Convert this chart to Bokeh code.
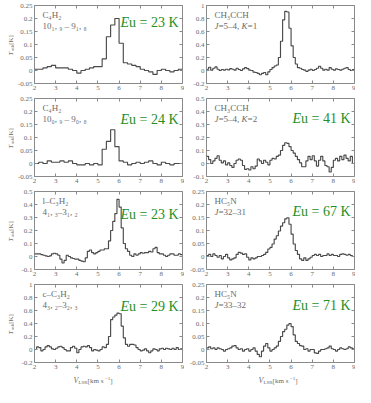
import math
from bokeh.plotting import figure
from bokeh.models import Label, LinearAxis, FixedTicker, Range1d
from bokeh.layouts import row, column
from bokeh.embed import file_html
from bokeh.resources import INLINE

# ---------------- data ----------------
v_start = 2.0
coarse_chan = 0.2
fine_chan = 0.1

x_ticks = [2, 3, 4, 5, 6, 7, 8, 9]
x_tick_labels = ["2", "3", "4", "5", "6", "7", "8", "9"]

# C4H2 10(1,9)-9(1,8)   (0.2 km/s channels)
c4h2_a = [0.005, 0.005, 0.010, 0.015, 0.020, 0.010, 0.010, 0.010, 0.005, 0.000,
          -0.010, 0.000, 0.005, 0.010, 0.015, 0.015, 0.045, 0.130, 0.175, 0.200,
          0.105, 0.030, 0.025, 0.020, 0.015, 0.005, 0.000, -0.005, -0.015, 0.000,
          0.005, 0.000, -0.005, 0.000, 0.005]
# C4H2 10(0,9)-9(0,8)
c4h2_b = [0.000, 0.005, 0.000, 0.010, 0.005, 0.005, 0.010, 0.005, 0.010, 0.000,
          -0.005, -0.005, 0.000, -0.005, 0.000, -0.005, 0.055, 0.085, 0.130, 0.065,
          0.010, 0.005, -0.005, 0.000, 0.005, 0.000, 0.005, 0.010, 0.000, -0.005,
          0.005, 0.000, -0.005, 0.000, 0.000]
# l-C3H2 (0.1 km/s channels)
l_c3h2 = [0.02, 0.02, 0.02, 0.015, 0.01, 0.005, 0.0, 0.005, 0.02, 0.025,
          0.02, 0.01, -0.02, -0.05, -0.03, 0.01, 0.0, -0.01, -0.015, -0.02,
          -0.02, -0.03, -0.035, -0.04, -0.01, 0.04, 0.05, 0.03, 0.02, 0.03,
          0.04, 0.05, 0.05, 0.06, 0.06, 0.12, 0.2, 0.27, 0.33, 0.44,
          0.38, 0.22, 0.1, 0.06, 0.04, 0.01, 0.0, 0.02, 0.01, 0.02,
          0.03, 0.025, 0.03, 0.03, 0.04, 0.035, 0.06, 0.07, 0.03, 0.02,
          0.02, 0.01, 0.0, 0.01, 0.02, 0.02, 0.01, 0.01, 0.02, 0.015]
# c-C3H2
c_c3h2 = [0.0, 0.04, 0.03, -0.02, 0.0, 0.04, 0.06, 0.04, 0.01, 0.0,
          0.02, 0.04, 0.05, 0.03, 0.0, -0.02, -0.02, 0.03, 0.05, 0.02,
          -0.05, 0.0, 0.04, 0.05, 0.04, 0.06, 0.03, -0.02, 0.0, -0.01,
          -0.02, 0.0, 0.04, 0.03, 0.08, 0.2, 0.46, 0.5, 0.53, 0.56,
          0.55, 0.36, 0.18, 0.08, 0.05, 0.08, 0.08, 0.07, 0.03, 0.0,
          -0.02, -0.01, 0.01, -0.02, -0.05, -0.02, 0.01, 0.0, -0.02, 0.01,
          0.02, 0.0, 0.02, 0.01, 0.0, 0.02, 0.0, 0.03, 0.0, 0.01]
# CH3CCH J=5-4 K=1
ch3cch_k1 = [0.02, 0.05, 0.005, 0.035, 0.055, 0.02, 0.0, 0.015, 0.005, 0.02,
             0.01, 0.03, 0.02, 0.005, 0.035, 0.015, 0.0, 0.025, 0.045, 0.03,
             0.005, 0.0, -0.025, -0.03, -0.045, -0.065, -0.045, -0.03, -0.065, -0.02,
             0.015, 0.045, 0.07, 0.085, 0.2, 0.45, 0.78, 0.91, 0.9, 0.65,
             0.38, 0.2, 0.1, 0.045, 0.035, 0.015, 0.005, -0.015, 0.005, 0.02,
             0.0, 0.015, 0.035, 0.065, 0.035, 0.005, 0.02, 0.005, 0.045, 0.02,
             0.005, 0.025, 0.015, 0.005, 0.02, 0.035, 0.045, 0.015, 0.0, 0.015]
# CH3CCH J=5-4 K=2
ch3cch_k2 = [0.055, 0.03, 0.0, 0.02, 0.04, 0.06, 0.025, 0.005, 0.02, -0.01,
             0.005, -0.015, -0.03, 0.0, 0.025, 0.035, 0.025, -0.015, -0.045, -0.04,
             -0.05, -0.025, -0.04, -0.02, 0.035, 0.02, 0.0, 0.025, 0.01, -0.01,
             0.025, 0.04, 0.035, 0.055, 0.065, 0.1, 0.14, 0.16, 0.155, 0.13,
             0.1, 0.08, 0.055, 0.03, 0.005, -0.025, -0.025, 0.02, 0.055, 0.03,
             0.06, 0.02, -0.02, 0.025, 0.055, 0.02, -0.015, -0.025, -0.065, -0.03,
             0.025, 0.04, 0.02, 0.055, 0.03, 0.065, 0.04, 0.02, 0.055, 0.0]
# HC5N J=32-31
hc5n_32 = [0.004, 0.008, 0.0, 0.01, 0.004, -0.003, 0.004, -0.009, 0.0, 0.008,
           -0.005, -0.013, -0.009, -0.005, 0.008, 0.016, 0.013, 0.008, 0.01, -0.003,
           -0.013, -0.005, -0.009, -0.005, 0.0, 0.0, 0.004, 0.008, 0.016, 0.029,
           0.035, 0.048, 0.067, 0.08, 0.098, 0.117, 0.13, 0.145, 0.149, 0.124,
           0.086, 0.048, 0.023, 0.008, -0.009, -0.015, -0.005, -0.015, -0.009, -0.003,
           0.004, 0.008, 0.004, 0.008, 0.0, 0.004, 0.004, 0.01, 0.004, 0.008,
           0.004, 0.004, 0.0, 0.008, 0.01, 0.008, 0.005, 0.008, 0.004, 0.0]
# HC5N J=33-32
hc5n_33 = [0.006, 0.01, 0.003, 0.006, 0.0, 0.006, 0.003, 0.0, -0.006, 0.0,
           0.003, 0.006, 0.013, 0.015, 0.006, 0.0, 0.003, -0.006, 0.0, 0.003,
           -0.006, 0.0, 0.006, -0.006, -0.019, -0.028, -0.006, 0.013, 0.023, 0.006,
           -0.006, 0.0, 0.006, 0.013, 0.031, 0.05, 0.069, 0.078, 0.094, 0.1,
           0.088, 0.056, 0.031, 0.023, 0.015, 0.013, 0.0, 0.003, -0.006, 0.0,
           0.0, -0.013, -0.015, -0.006, 0.0, 0.0, 0.003, 0.006, 0.013, 0.003,
           0.0, -0.006, 0.0, 0.006, 0.003, 0.0, 0.003, 0.01, 0.006, 0.003]

ticks_small = [-0.05, 0.0, 0.05, 0.1, 0.15, 0.2, 0.25]
labels_small = ["-0.05", "0", "0.05", "0.1", "0.15", "0.2", "0.25"]
ticks_mid = [-0.1, 0.0, 0.1, 0.2, 0.3, 0.4, 0.5]
labels_mid = ["-0.1", "0", "0.1", "0.2", "0.3", "0.4", "0.5"]
ticks_big = [-0.2, 0.0, 0.2, 0.4, 0.6, 0.8, 1.0]
labels_big = ["-0.2", "0", "0.2", "0.4", "0.6", "0.8", "1"]

molecules_left = ["C₄H₂", "C₄H₂", "l–C₃H₂", "c–C₃H₂"]
transitions_left = ["10₁, ₉ – 9₁, ₈", "10₀, ₉ – 9₀, ₈", "4₁, ₃–3₁, ₂", "4₃, ₂–3₂, ₃"]
molecules_right = ["CH₃CCH", "CH₃CCH", "HC₅N", "HC₅N"]
transitions_right = ["J=5–4, K=1", "J=5–4, K=2", "J=32–31", "J=33–32"]
eu_left = ["23", "24", "23", "29"]
eu_right = [None, "41", "67", "71"]

# ---------------- style / layout ----------------
FONT = "Liberation Serif"
TXT = "#6a6a6a"
FRAME = "#8a8a8a"
LINE = "#4a4a4a"
GREEN = "#1f8f1f"
FW, FH = 148, 78
TOPB = [5, 4, 4, 4]
BOTB = 11
YT_W = 14           # width of the strip holding the y titles
XT_H = 14           # height of the strip holding the x titles
LAB_PX = 9          # molecule label font size
# approximate Times advance widths (em) for the italic-split transition text
CW = {"=": 0.564, "–": 0.5, ",": 0.25, " ": 0.25, "J": 0.444, "K": 0.667}


def style_axis(ax, show):
    ax.axis_line_color = None
    ax.major_tick_in = 3
    ax.major_tick_out = 0
    ax.major_tick_line_color = FRAME
    ax.minor_tick_line_color = None
    if show:
        ax.major_label_text_font = FONT
        ax.major_label_text_font_size = "7px"
        ax.major_label_text_color = TXT
        ax.major_label_standoff = 2
    else:
        ax.major_label_text_font_size = "1px"
        ax.major_label_text_color = None
        ax.major_label_standoff = 0


def italic_split(p, yhi, text, x0, dy):
    x = x0
    buf = ""
    pieces = []
    for ch in text:
        if ch in "JK":
            if buf:
                pieces.append((buf, False))
                buf = ""
            pieces.append((ch, True))
        else:
            buf += ch
    if buf:
        pieces.append((buf, False))
    for s, it in pieces:
        p.add_layout(Label(x=2, y=yhi, x_offset=x, y_offset=dy, text=s,
                           text_font=FONT, text_font_size=f"{LAB_PX}px", text_color=TXT,
                           text_baseline="middle",
                           text_font_style="italic" if it else "normal"))
        x += sum(CW.get(c, 0.5) for c in s) * LAB_PX


def panel(vals, chan, ticks, tlabels, mol, trans, eu, eu_dy, col, rowi):
    lb = 20 if col == 0 else 22
    rb = 2 if col == 0 else 1
    tb = TOPB[rowi]
    ylo, yhi = ticks[0], ticks[-1]
    p = figure(width=lb + FW + rb, height=tb + FH + BOTB,
               x_range=Range1d(2, 9), y_range=Range1d(ylo, yhi),
               x_axis_location=None, y_axis_location=None,
               output_backend="svg", toolbar_location=None,
               min_border_left=lb, min_border_right=rb,
               min_border_top=tb, min_border_bottom=BOTB)
    p.xgrid.visible = False
    p.ygrid.visible = False
    p.outline_line_color = FRAME
    p.outline_line_width = 1
    p.background_fill_color = "white"
    p.border_fill_color = "white"

    xl = dict(zip(x_ticks, x_tick_labels))
    yl = dict(zip(ticks, tlabels))
    for loc, show in (("below", True), ("above", False)):
        ax = LinearAxis(ticker=FixedTicker(ticks=x_ticks), major_label_overrides=xl)
        style_axis(ax, show)
        p.add_layout(ax, loc)
    for loc, show in (("left", True), ("right", False)):
        ax = LinearAxis(ticker=FixedTicker(ticks=ticks), major_label_overrides=yl)
        style_axis(ax, show)
        p.add_layout(ax, loc)

    xs = [v_start + i * chan for i in range(len(vals) + 1)]
    ys = list(vals) + [vals[-1]]
    p.step(xs, ys, mode="after", line_color=LINE, line_width=1.15)

    p.add_layout(Label(x=2, y=yhi, x_offset=8, y_offset=-9, text=mol,
                       text_font=FONT, text_font_size=f"{LAB_PX}px", text_color=TXT,
                       text_baseline="middle"))
    italic_split(p, yhi, trans, 8, -20)
    if eu is not None:
        p.add_layout(Label(x=2, y=yhi, x_offset=86, y_offset=-eu_dy, text="E",
                           text_font=FONT, text_font_size="14px", text_color=GREEN,
                           text_font_style="italic", text_baseline="alphabetic"))
        p.add_layout(Label(x=2, y=yhi, x_offset=94.6, y_offset=-eu_dy, text=f"u = {eu} K",
                           text_font=FONT, text_font_size="14px", text_color=GREEN,
                           text_baseline="alphabetic"))
    return p


left_specs = [(c4h2_a, coarse_chan, ticks_small, labels_small, 17),
              (c4h2_b, coarse_chan, ticks_small, labels_small, 21),
              (l_c3h2, fine_chan, ticks_mid, labels_mid, 23),
              (c_c3h2, fine_chan, ticks_big, labels_big, 22)]
right_specs = [(ch3cch_k1, fine_chan, ticks_big, labels_big, 20),
               (ch3cch_k2, fine_chan, ticks_mid, labels_mid, 20),
               (hc5n_32, fine_chan, ticks_small, labels_small, 20),
               (hc5n_33, fine_chan, ticks_small, labels_small, 21)]

rows = []
for i in range(4):
    lv, lc, lt, ll, ld = left_specs[i]
    rv, rc, rt, rl, rd = right_specs[i]
    pl = panel(lv, lc, lt, ll, molecules_left[i], transitions_left[i], eu_left[i], ld, 0, i)
    pr = panel(rv, rc, rt, rl, molecules_right[i], transitions_right[i], eu_right[i], rd, 1, i)
    rows.append(row(pl, pr))


def blank(w, h):
    f = figure(width=w, height=h, x_range=Range1d(0, w), y_range=Range1d(h, 0),
               x_axis_location=None, y_axis_location=None,
               output_backend="svg", toolbar_location=None, min_border=0)
    f.xgrid.visible = False
    f.ygrid.visible = False
    f.outline_line_color = None
    f.background_fill_color = "white"
    f.border_fill_color = "white"
    return f


# y-axis titles (T_mb [K]) for the left column
panels_h = sum(TOPB) + 4 * (FH + BOTB)
ytf = blank(YT_W, panels_h)
top = 0
for i in range(4):
    yc = top + TOPB[i] + FH / 2
    common = dict(angle=math.pi / 2, text_font=FONT, text_color=TXT,
                  text_align="left", text_baseline="middle")
    ytf.add_layout(Label(x=10, y=yc + 11, text="T", text_font_size="7px",
                         text_font_style="italic", **common))
    ytf.add_layout(Label(x=12, y=yc + 6.7, text="mb", text_font_size="5px", **common))
    ytf.add_layout(Label(x=10, y=yc + 0.3, text=" [K]", text_font_size="7px", **common))
    top += TOPB[i] + FH + BOTB
ytf_full = column(ytf, blank(YT_W, XT_H))


def xtitle(w, x0):
    f = blank(w, XT_H)
    common = dict(text_font=FONT, text_color=TXT, text_align="left", text_baseline="middle")
    f.add_layout(Label(x=x0, y=7, text="V", text_font_size="8px", text_font_style="italic", **common))
    f.add_layout(Label(x=x0 + 4.9, y=9, text="LSR", text_font_size="5px", **common))
    f.add_layout(Label(x=x0 + 14.1, y=7, text=" [km s", text_font_size="7px", **common))
    f.add_layout(Label(x=x0 + 31.5, y=4.5, text="−1", text_font_size="5px", **common))
    f.add_layout(Label(x=x0 + 36.8, y=7, text="]", text_font_size="7px", **common))
    return f


xt_row = row(xtitle(20 + FW + 2, 59), xtitle(22 + FW + 1, 74))
layout = row(ytf_full, column(*rows, xt_row))
open("out.html", "w").write(file_html(layout, INLINE))
